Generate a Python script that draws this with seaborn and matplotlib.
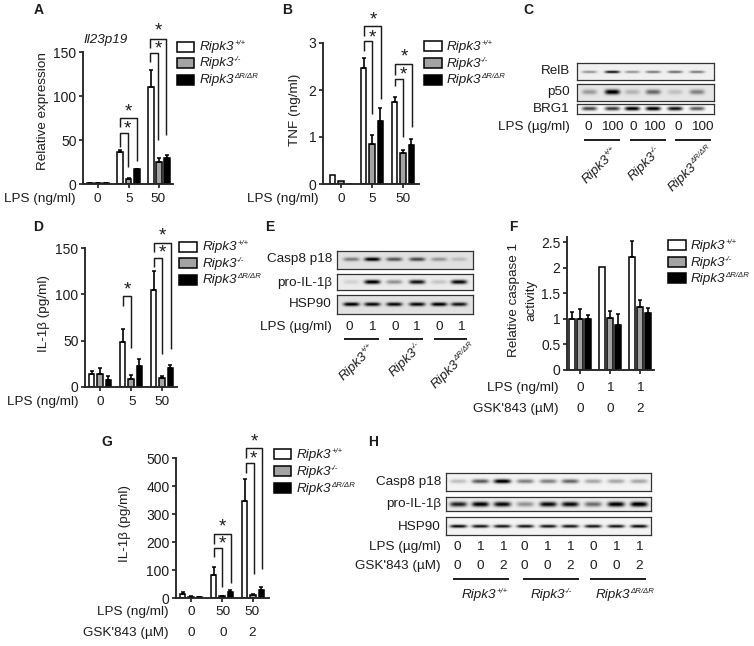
import numpy as np
import pandas as pd
import matplotlib
matplotlib.use('Agg')
import matplotlib.pyplot as plt
from matplotlib.patches import Rectangle
import seaborn as sns

W, H = 754, 646
INK = '#1c1c1c'

# ── Bar data ───────────────────────────────────────────────
genotypes = ['+/+', '-/-', 'dR']
bar_colors = {'+/+': 'white', '-/-': '#a3a3a3', 'dR': 'black'}

a_groups = ['0', '5', '50']
a_wt = [1, 36, 110]
a_ko = [1, 6, 25]
a_dr = [1, 17, 30]
a_wt_err = [0.5, 3, 19]
a_ko_err = [0.5, 1, 4]
a_dr_err = [0.3, 0.5, 3]

b_groups = ['0', '5', '50']
b_wt = [0.19, 2.46, 1.74]
b_ko = [0.06, 0.86, 0.66]
b_dr = [0, 1.34, 0.84]
b_wt_err = [0, 0.22, 0.11]
b_ko_err = [0, 0.18, 0.07]
b_dr_err = [0, 0.28, 0.12]

d_groups = ['0', '5', '50']
d_wt = [14, 49, 105]
d_ko = [14, 9, 10]
d_dr = [8, 23, 20]
d_wt_err = [3, 14, 20]
d_ko_err = [7, 4, 2]
d_dr_err = [4, 7, 4]

f_groups = ['0/0', '1/0', '1/2']
f_wt = [1, 2.02, 2.2]
f_ko = [1, 1.02, 1.23]
f_dr = [1, 0.87, 1.12]
f_wt_err = [0.14, 0, 0.32]
f_ko_err = [0.2, 0.13, 0.14]
f_dr_err = [0.08, 0.23, 0.1]

g_groups = ['0/0', '50/0', '50/2']
g_wt = [16, 82, 345]
g_ko = [5, 6, 12]
g_dr = [2, 20, 28]
g_wt_err = [6, 27, 80]
g_ko_err = [3, 2, 4]
g_dr_err = [1, 10, 12]

# ── Blot band strengths, one per lane ──────────────────────
c_relb = [.35, .85, .35, .45, .5, .45]
c_p50 = [.3, .95, .2, .5, .15, .4]
c_brg1 = [.7, .75, 1, 1, .9, .6]

e_casp8 = [.4, .9, .55, .6, .3, .15]
e_proil = [.1, .95, .35, .85, .15, .9]
e_hsp90 = [.9, .85, .85, .85, .9, .8]

h_casp8 = [.2, .6, 1, .45, .45, .55, .3, .3, .3]
h_proil = [.8, .95, .9, .35, .9, .9, .5, .95, 1]
h_hsp90 = [.9, .85, .85, .85, .85, .85, .85, .85, .9]

c_lps = ['0', '100', '0', '100', '0', '100']
e_lps = ['0', '1', '0', '1', '0', '1']
h_lps = ['0', '1', '1', '0', '1', '1', '0', '1', '1']
h_gsk = ['0', '0', '2', '0', '0', '2', '0', '0', '2']

sns.set_style('ticks')
plt.rcParams['font.family'] = ['Liberation Sans', 'DejaVu Sans']
plt.rcParams['text.color'] = INK
plt.rcParams['axes.labelcolor'] = INK
plt.rcParams['xtick.color'] = INK
plt.rcParams['ytick.color'] = INK

fig = plt.figure(figsize=(W / 100, H / 100), dpi=100, facecolor='white')

# calque en pixels pour les textes et les accolades
over = fig.add_axes([0, 0, 1, 1], zorder=10)
over.set_xlim(0, W)
over.set_ylim(H, 0)
over.axis('off')
over.patch.set_alpha(0)

FS = 9.7


def px_axes(left, right, top, bottom, **kw):
    return fig.add_axes([left / W, 1 - bottom / H, (right - left) / W, (bottom - top) / H], **kw)


def label(x, y, s, ha='center', **kw):
    kw.setdefault('fontsize', FS)
    over.text(x, y, s, ha=ha, va='center', **kw)


def geno(x, y, key, rotation=0, fs=FS, sup_fs=5.6):
    # nom en italique puis exposant plus petit, placé à la suite
    sup = {'+/+': '+/+', '-/-': '-/-', 'dR': 'ΔR/ΔR'}[key]
    r = fig.canvas.get_renderer()
    probe = over.text(x, y, 'Ripk3', style='italic', fontsize=fs, ha='left', va='baseline')
    w = probe.get_window_extent(r).width - 0.4
    probe.set_rotation(rotation)
    probe.set_rotation_mode('anchor')
    a = np.radians(rotation)
    rise = 0.36 * fs * 1.39
    dx = w * np.cos(a) - rise * np.sin(a)
    dy = -w * np.sin(a) - rise * np.cos(a)
    over.text(x + dx, y + dy, sup, style='italic', fontsize=sup_fs, ha='left', va='baseline',
              rotation=rotation, rotation_mode='anchor')


def bracket(x1, x2, top, left_end, right_end, star_x, star_y):
    over.plot([x1, x1, x2, x2], [left_end, top, top, right_end], color=INK, lw=1.05,
              solid_joinstyle='round', solid_capstyle='butt')
    over.text(star_x, star_y + 2.2, '*', fontsize=13.5, ha='center', va='center')


def legend(x0, x1, tops, text_x, baselines, h=9.5):
    for top, base, key in zip(tops, baselines, genotypes):
        over.add_patch(Rectangle((x0, top), x1 - x0, h, facecolor=bar_colors[key],
                                 edgecolor='black', lw=1.1))
        geno(text_x, base, key)


def bars(rect, centers, groups, wt, ko, dr, errs, ymax, ticks, ticklabels, ylab, ylab_x, ylab_y):
    left, right, top, bottom = rect
    ax = px_axes(left, right, top, bottom)
    df = pd.DataFrame({
        'group': list(groups) * 3,
        'genotype': np.repeat(genotypes, 3),
        'value': list(wt) + list(ko) + list(dr),
    })
    sns.barplot(data=df, x='group', y='value', hue='genotype', order=groups, hue_order=genotypes,
                palette=bar_colors, saturation=1, errorbar=None, width=0.81, gap=0.32,
                edgecolor='black', linewidth=1.1, legend=False, ax=ax)
    for cont, err in zip(ax.containers, errs):
        for bar, e in zip(cont, err):
            if e > 0:
                ax.errorbar(bar.get_x() + bar.get_width() / 2, bar.get_height(), yerr=[[0], [e]],
                            color='black', elinewidth=1.2, capsize=1.7, capthick=1.1, zorder=1)
    step = centers[1] - centers[0]
    ax.set_xlim((left - centers[0]) / step, (right - centers[0]) / step)
    ax.set_ylim(0, ymax)
    ax.set_yticks(ticks)
    ax.set_yticklabels(ticklabels, fontsize=FS + 0.3)
    ax.set_xticks(range(3))
    ax.set_xticklabels([])
    ax.set_xlabel('')
    ax.set_ylabel(ylab, fontsize=FS, linespacing=1.5)
    ax.yaxis.set_label_coords((ylab_x - left) / (right - left), (bottom - ylab_y) / (bottom - top))
    ax.tick_params(axis='both', length=3.2, width=1.2, pad=1.5)
    sns.despine(ax=ax)
    for s in ['left', 'bottom']:
        ax.spines[s].set_linewidth(1.35)
    ax.patch.set_alpha(0)
    return ax


def blot(rect, strengths, lanes, band_y, band_h, bg, band_w=7.5):
    left, right, top, bottom = rect
    ax = px_axes(left, right, top, bottom)
    nx, ny = (right - left) * 2, (bottom - top) * 2
    xs = np.linspace(left, right, nx)
    ys = np.linspace(top, bottom, ny)
    img = np.full((ny, nx), float(bg))
    for lane, s in zip(lanes, strengths):
        prof_x = np.exp(-((xs - lane) / band_w) ** 4)
        prof_y = np.exp(-((ys - band_y) / band_h) ** 2)
        img += s * np.outer(prof_y, prof_x)
    sns.heatmap(np.clip(img, 0, 1), cmap='gray_r', vmin=0, vmax=1, cbar=False,
                xticklabels=False, yticklabels=False, rasterized=True, ax=ax)
    for sp in ax.spines.values():
        sp.set_visible(True)
        sp.set_linewidth(0.9)
        sp.set_color('#333333')


def underline(spans, y):
    for x0, x1 in spans:
        over.plot([x0, x1], [y, y], color=INK, lw=1.4, solid_capstyle='butt')


# ── Panels à barres ───────────────────────────────────────
bars((83, 173, 52, 184), (98, 128.5, 158), a_groups, a_wt, a_ko, a_dr,
     [a_wt_err, a_ko_err, a_dr_err], 150, [0, 50, 100, 150], ['0', '50', '100', '150'],
     'Relative expression', 49, 111)
bars((323, 419, 43, 184), (341, 372, 403), b_groups, b_wt, b_ko, b_dr,
     [b_wt_err, b_ko_err, b_dr_err], 3, [0, 1, 2, 3], ['0', '1', '2', '3'],
     'TNF (ng/ml)', 301, 110)
bars((85, 177, 248, 387), (100, 131, 161), d_groups, d_wt, d_ko, d_dr,
     [d_wt_err, d_ko_err, d_dr_err], 150, [0, 50, 100, 150], ['0', '50', '100', '150'],
     'IL-1β (pg/ml)', 50, 313)
bars((567, 654, 237, 370), (580, 610, 640), f_groups, f_wt, f_ko, f_dr,
     [f_wt_err, f_ko_err, f_dr_err], 2.6, [0, 0.5, 1, 1.5, 2, 2.5], ['0', '0.5', '1', '1.5', '2', '2.5'],
     'Relative caspase 1\nactivity', 537, 300)
bars((176, 269, 458, 598), (191, 222, 253), g_groups, g_wt, g_ko, g_dr,
     [g_wt_err, g_ko_err, g_dr_err], 500, [0, 100, 200, 300, 400, 500], ['0', '100', '200', '300', '400', '500'],
     'IL-1β (pg/ml)', 131, 523)

# ── Accolades ─────────────────────────────────────────────
bracket(119.5, 128, 133, 147, 167, 127, 127)
bracket(119.5, 136.5, 118, 127, 161, 128, 110)
bracket(149.7, 158, 53, 62, 140, 158, 47)
bracket(149.7, 166, 39, 48, 135, 158, 29)

bracket(364.3, 372.3, 41, 51, 114, 372, 36)
bracket(364.3, 381, 26, 36, 99, 373, 18)
bracket(395, 403.3, 79, 86, 137, 403, 73)
bracket(395, 411.7, 64, 75, 127, 404, 55)

bracket(122.7, 131, 296, 306, 348, 127, 288)
bracket(154, 162.3, 258, 267, 354, 162, 251)
bracket(154, 170.7, 243, 252, 349, 162, 234)

bracket(214, 222.3, 548, 557, 587, 222, 542)
bracket(214, 230.7, 534, 544, 583, 222, 525)
bracket(245.7, 253.7, 463, 473, 574, 253, 457)
bracket(245.7, 262, 448, 458, 569, 254, 440)

# ── Légendes ──────────────────────────────────────────────
legend(177, 194, (42, 58, 75), 200, (50, 66, 83))
legend(424, 442, (41, 58, 75), 447, (50, 67, 83))
legend(179, 197, (242, 258, 275), 203, (250, 267, 283))
legend(668, 686, (240, 257, 273), 691, (249, 266, 282))
legend(274, 291, (449, 466, 483), 297, (458, 475, 492))

label(83, 40, 'Il23p19', ha='left', style='italic')

# ── Lettres ───────────────────────────────────────────────
for s, x, y in [('A', 39, 10), ('B', 287, 10), ('C', 528, 10), ('D', 38, 227),
                ('E', 270, 227), ('F', 513, 227), ('G', 107, 442), ('H', 373, 442)]:
    label(x, y, s, fontweight='bold', fontsize=10)

# ── Lignes sous les axes ──────────────────────────────────
label(76, 199, 'LPS (ng/ml)', ha='right')
for x, s in zip((97, 129, 158), a_groups):
    label(x, 199, s)
label(319, 199, 'LPS (ng/ml)', ha='right')
for x, s in zip((341, 372, 403), b_groups):
    label(x, 199, s)
label(79, 402, 'LPS (ng/ml)', ha='right')
for x, s in zip((100, 132, 162), d_groups):
    label(x, 402, s)
label(559, 388, 'LPS (ng/ml)', ha='right')
label(559, 409, "GSK'843 (µM)", ha='right')
for x, s in zip((580, 610, 640), ['0', '1', '1']):
    label(x, 388, s)
for x, s in zip((580, 610, 640), ['0', '0', '2']):
    label(x, 409, s)
label(169, 612, 'LPS (ng/ml)', ha='right')
label(169, 633, "GSK'843 (µM)", ha='right')
for x, s in zip((191, 223, 252), ['0', '50', '50']):
    label(x, 612, s)
for x, s in zip((191, 223, 252), ['0', '0', '2']):
    label(x, 633, s)

# ── Blot C ────────────────────────────────────────────────
c_lanes = (589, 612, 632, 653, 675, 697)
blot((577, 714, 63, 80), c_relb, c_lanes, 71.7, 1.4, .06)
blot((577, 714, 84, 101), c_p50, c_lanes, 91.7, 2.6, .1)
blot((577, 714, 104, 114), c_brg1, c_lanes, 108.3, 2.1, .03)
for s, y in [('RelB', 71), ('p50', 92), ('BRG1', 109)]:
    label(570, y, s, ha='right')
label(570, 127, 'LPS (µg/ml)', ha='right')
for x, s in zip((588, 612, 633, 654, 678, 702), c_lps):
    label(x, 127, s)
underline([(584, 620), (630, 666), (675, 711)], 140)
geno(586, 184, '+/+', rotation=45)
geno(632, 181, '-/-', rotation=45)
geno(672, 192, 'dR', rotation=45)

# ── Blot E ────────────────────────────────────────────────
e_lanes = (351, 372, 394, 417, 439, 459)
blot((337, 473, 251, 269), e_casp8, e_lanes, 259.5, 2, .12, band_w=8)
blot((337, 473, 274, 290), e_proil, e_lanes, 281.7, 2.2, .08, band_w=8)
blot((337, 473, 295, 314), e_hsp90, e_lanes, 304, 2, .12, band_w=8)
for s, y in [('Casp8 p18', 259), ('pro-IL-1β', 283), ('HSP90', 304)]:
    label(332, y, s, ha='right')
label(332, 327, 'LPS (µg/ml)', ha='right')
for x, s in zip((349, 372, 395, 416, 439, 461), e_lps):
    label(x, 327, s)
underline([(344, 379), (389, 423), (434, 467)], 339)
geno(343, 381, '+/+', rotation=45)
geno(393, 377, '-/-', rotation=45)
geno(435, 389, 'dR', rotation=45)

# ── Blot H ────────────────────────────────────────────────
h_lanes = (458, 480, 502, 525, 548, 570, 593, 616, 639)
blot((446, 651, 473, 491), h_casp8, h_lanes, 481, 2.2, .05, band_w=8.5)
blot((446, 651, 497, 511), h_proil, h_lanes, 504, 2.6, .08, band_w=8.5)
blot((446, 651, 517, 535), h_hsp90, h_lanes, 526, 1.7, .05, band_w=8.5)
for s, y in [('Casp8 p18', 482), ('pro-IL-1β', 504), ('HSP90', 527)]:
    label(441, y, s, ha='right')
label(441, 547, 'LPS (µg/ml)', ha='right')
label(441, 566, "GSK'843 (µM)", ha='right')
h_x = (457, 480, 503, 524, 547, 570, 593, 616, 639)
for x, s in zip(h_x, h_lps):
    label(x, 547, s)
for x, s in zip(h_x, h_gsk):
    label(x, 566, s)
underline([(453, 509), (523, 579), (590, 646)], 579)
geno(462, 598, '+/+')
geno(531, 598, '-/-')
geno(596, 598, 'dR')

fig.savefig('out.png', dpi=100, facecolor='white')
